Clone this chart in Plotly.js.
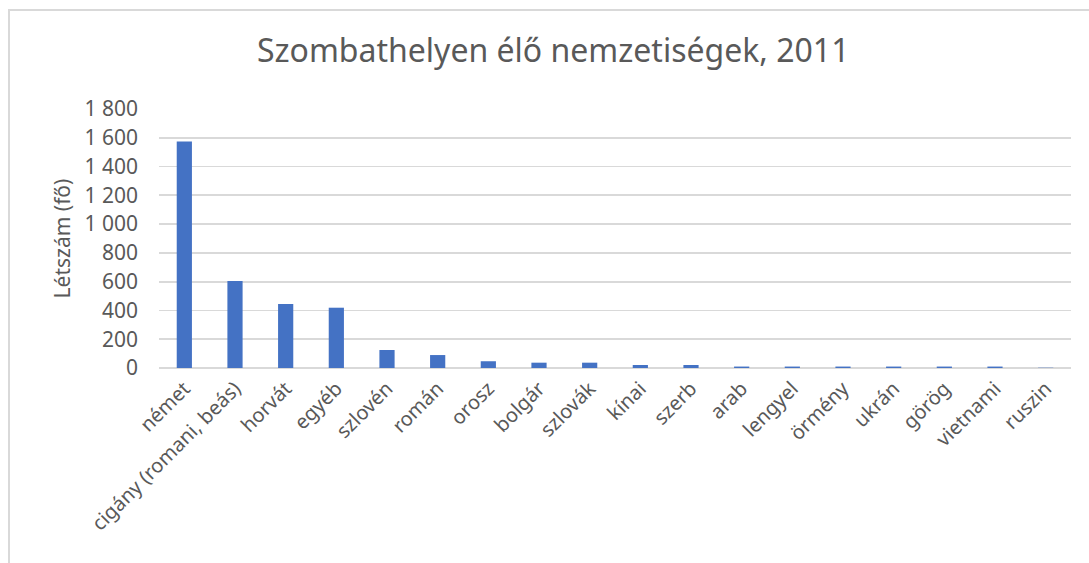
<!DOCTYPE html>
<html>
<head>
<meta charset="utf-8">
<script src="https://cdn.plot.ly/plotly-3.0.1.min.js"></script>
<style>
  html, body { margin: 0; padding: 0; background: #ffffff; overflow: hidden; }
  #frame { position: absolute; left: 8px; top: 9px; width: 1200px; height: 700px;
           border-left: 2px solid #d9d9d9; border-top: 2px solid #d9d9d9; pointer-events: none; z-index: 5; }
  #chart { position: absolute; left: 0; top: 0; width: 1089px; height: 563px; }
</style>
</head>
<body>
<div id="chart"></div>
<div id="frame"></div>
<script>
const titleText = "Szombathelyen élő nemzetiségek, 2011";
const yTitle = "Létszám (fő)";
const categories = ["német", "cigány (romani, beás)", "horvát", "egyéb", "szlovén", "román", "orosz", "bolgár", "szlovák", "kínai", "szerb", "arab", "lengyel", "örmény", "ukrán", "görög", "vietnami", "ruszin"];
const values = [1574, 605, 445, 419, 125, 90, 47, 37, 37, 21, 21, 10, 10, 10, 10, 10, 10, 2];
const yTickVals = [0, 200, 400, 600, 800, 1000, 1200, 1400, 1600, 1800];

const font = "'Noto Sans', 'Open Sans', sans-serif";
const data = [{
  type: "bar",
  x: categories,
  y: values,
  marker: { color: "#4472c4" },
  hoverinfo: "x+y"
}];

const layout = {
  width: 1089,
  height: 563,
  paper_bgcolor: "#ffffff",
  plot_bgcolor: "#ffffff",
  separators: ", ",
  margin: { l: 159, r: 18, t: 109, b: 195 },
  bargap: 0.7,
  showlegend: false,
  title: {
    text: titleText,
    font: { family: font, size: 32, color: "#595959" },
    x: 0.508, xanchor: "center",
    y: 0.91, yanchor: "middle"
  },
  xaxis: {
    type: "category",
    tickangle: -45,
    tickfont: { family: font, size: 20, color: "#595959" },
    showgrid: false,
    showline: false,
    zeroline: false,
    ticks: "",
    ticklabelstandoff: 4
  },
  yaxis: {
    range: [0, 1800],
    tickvals: yTickVals,
    tickformat: ",d",
    tickfont: { family: font, size: 21, color: "#595959" },
    gridcolor: "#d9d9d9",
    gridwidth: 1.8,
    zeroline: true,
    zerolinecolor: "#d9d9d9",
    zerolinewidth: 1.8,
    showline: false,
    ticks: "",
    ticklabelstandoff: 20,
    title: {
      text: yTitle,
      font: { family: font, size: 21, color: "#595959" },
      standoff: 8
    }
  }
};

Plotly.newPlot("chart", data, layout, { displayModeBar: false, staticPlot: true });
</script>
</body>
</html>
